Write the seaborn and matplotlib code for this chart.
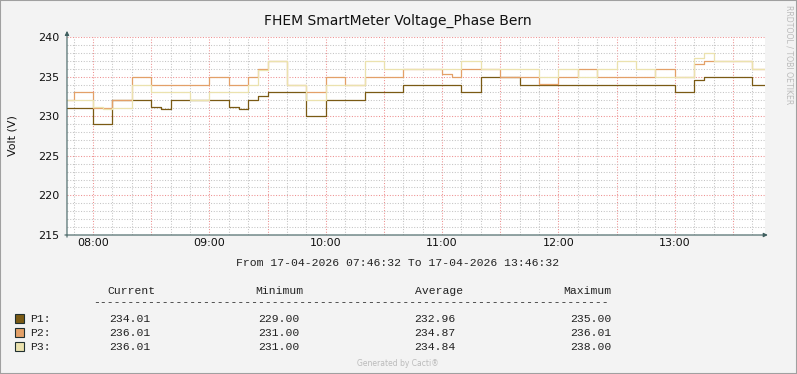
import numpy as np
import pandas as pd
import matplotlib
matplotlib.use('Agg')
import matplotlib.pyplot as plt
import matplotlib.dates as mdates
from matplotlib.ticker import MultipleLocator, FuncFormatter
from matplotlib.patches import Rectangle
import seaborn as sns

# Datos (lecturas del gráfico, valores escalonados cada 5 min)
day = '2026-04-17 '
t_start = pd.Timestamp(day + '07:46:32')
t_end = pd.Timestamp(day + '13:46:32')

p1_times = ['07:45', '08:00', '08:10', '08:30', '08:35', '08:40', '09:10', '09:15', '09:20',
            '09:25', '09:30', '09:50', '10:00', '10:20', '10:40', '11:10', '11:20', '11:40',
            '13:00', '13:10', '13:15', '13:40']
p1_vals = [231, 229, 232, 231.1, 230.9, 232, 231.2, 230.9, 232,
           232.5, 233, 230, 232, 233, 234, 233, 235, 234,
           233, 234.6, 235, 234]

p2_times = ['07:45', '07:50', '08:00', '08:10', '08:20', '08:30', '09:00', '09:10', '09:20',
            '09:25', '09:30', '09:40', '09:50', '10:00', '10:10', '10:20', '10:40', '11:00',
            '11:05', '11:10', '11:30', '11:50', '12:00', '12:10', '12:20', '12:50', '13:00',
            '13:10', '13:15', '13:40']
p2_vals = [232, 233, 231, 232, 235, 234, 235, 234, 235,
           236, 237, 234, 233, 235, 234, 235, 236, 235.3,
           235, 236, 235, 234.1, 235, 236, 235, 236, 235,
           236.6, 237, 236]

p3_times = ['07:45', '08:00', '08:05', '08:10', '08:20', '08:30', '08:50', '09:00', '09:20',
            '09:25', '09:30', '09:40', '09:50', '10:00', '10:20', '10:30', '11:10', '11:20',
            '11:50', '12:00', '12:10', '12:20', '12:30', '12:40', '12:50', '13:10', '13:15',
            '13:20', '13:40']
p3_vals = [232, 231.1, 230.9, 231, 234, 233, 232, 233, 234,
           235.8, 237, 234, 232, 234, 237, 236, 237, 236,
           235, 236, 235, 236, 237, 236, 235, 237.3, 238,
           237, 236]

series_names = ['P1:', 'P2:', 'P3:']
series_colors = ['#7A5A14', '#E3A068', '#EBE2AE']
cur_vals = ['234.01', '236.01', '236.01']
min_vals = ['229.00', '231.00', '231.00']
avg_vals = ['232.96', '234.87', '234.84']
max_vals = ['235.00', '236.01', '238.00']


def steps(times, vals):
    t = [max(pd.Timestamp(day + s), t_start) for s in times] + [t_end]
    v = list(vals) + [vals[-1]]
    return pd.DataFrame({'time': t, 'volt': v})


W, H = 797, 374
sns.set_theme(style='white')
plt.rcParams['font.family'] = ['DejaVu Sans']

fig = plt.figure(figsize=(W / 100, H / 100), dpi=100, facecolor='#F3F3F3')
ax = fig.add_axes([67 / W, 1 - 235 / H, (765 - 67) / W, (235 - 37) / H])
ax.set_facecolor('white')

for times, vals, col in zip([p1_times, p2_times, p3_times],
                            [p1_vals, p2_vals, p3_vals], series_colors):
    sns.lineplot(data=steps(times, vals), x='time', y='volt', ax=ax, color=col,
                 drawstyle='steps-post', lw=0.9, estimator=None, sort=False)

ax.set_xlim(t_start, t_end)
ax.set_ylim(215, 240)
ax.yaxis.set_major_locator(MultipleLocator(5))
ax.yaxis.set_minor_locator(MultipleLocator(1))
ax.xaxis.set_major_locator(mdates.MinuteLocator(byminute=[0, 30]))
ax.xaxis.set_minor_locator(mdates.MinuteLocator(byminute=range(0, 60, 10)))
ax.xaxis.set_major_formatter(FuncFormatter(
    lambda x, pos: mdates.num2date(x).strftime('%H:%M') if mdates.num2date(x).minute == 0 else ''))

ax.set_axisbelow(True)
ax.grid(True, which='minor', color='#C4C4C4', ls=(0, (1, 1.6)), lw=0.75)
ax.grid(True, which='major', color='#EE9090', ls=(0, (1, 1.6)), lw=0.75)
ax.tick_params(axis='both', which='both', length=2.5, width=0.6, color='#909090',
               labelsize=8, labelcolor='#111111', direction='inout')
ax.tick_params(axis='y', which='major', pad=4)
ax.tick_params(axis='x', which='major', color='#E07070', pad=1)
for s in ax.spines.values():
    s.set_visible(False)
ax.set_xlabel('')
ax.set_ylabel('Volt (V)', fontsize=8, color='#111111', labelpad=15)

# ejes con flecha
axis_col = '#3F5F5F'
ax.annotate('', xy=(1.008, 0), xycoords='axes fraction', xytext=(-0.007, 0),
            arrowprops=dict(arrowstyle='-|>', color=axis_col, lw=0.8, mutation_scale=6))
ax.annotate('', xy=(0, 1.045), xycoords='axes fraction', xytext=(0, -0.025),
            arrowprops=dict(arrowstyle='-|>', color=axis_col, lw=0.8, mutation_scale=6))

def px(x, y):
    return x / W, 1 - y / H

fig.text(*px(398, 21), 'FHEM SmartMeter Voltage_Phase Bern', ha='center', va='center',
         fontsize=10, color='#111111')
fig.text(*px(789, 5), 'RRDTOOL / TOBI OETIKER', rotation=-90, ha='center', va='top',
         fontsize=5.6, color='#BBBBBB')

mono = dict(family='Liberation Mono', fontsize=8.2, color='#222222', va='center')
fig.text(*px(398, 263), 'From 17-04-2026 07:46:32 To 17-04-2026 13:46:32', ha='center', **mono)
for lab, xr in zip(['Current', 'Minimum', 'Average', 'Maximum'], [155, 303, 463, 611]):
    fig.text(*px(xr, 291), lab, ha='right', **mono)
fig.text(*px(93, 302), '-' * 75, ha='left', **mono)

for i, (name, col) in enumerate(zip(series_names, series_colors)):
    y = 319 + i * 14
    fig.patches.append(Rectangle(px(15, y + 4), 9 / W, 9 / H, transform=fig.transFigure,
                                 facecolor=col, edgecolor='#203030', lw=0.8))
    fig.text(*px(30, y), name, ha='left', **mono)
    for vals, xr in zip([cur_vals, min_vals, avg_vals, max_vals], [150, 299, 455, 611]):
        fig.text(*px(xr, y), vals[i], ha='right', **mono)

fig.text(*px(398, 363), 'Generated by Cacti®', ha='center', va='center', fontsize=5.5,
         color='#BBBBBB')

fig.patches.append(Rectangle((0, 0), 1, 1, transform=fig.transFigure, facecolor='none',
                             edgecolor='#A0A0A0', lw=1.5))

fig.savefig('out.png', dpi=100, facecolor=fig.get_facecolor())
